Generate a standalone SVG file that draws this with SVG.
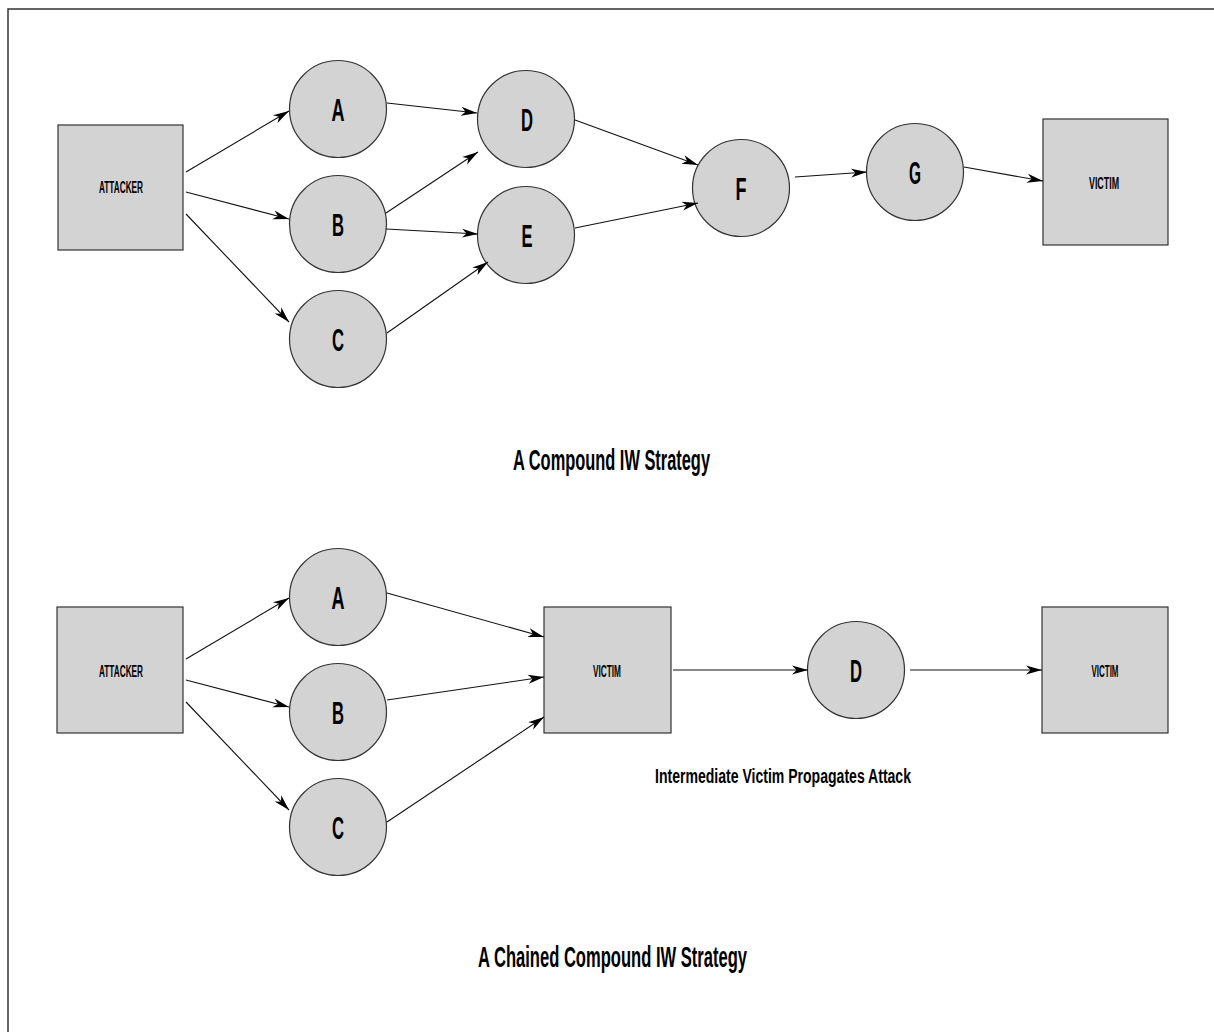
<svg xmlns="http://www.w3.org/2000/svg" width="1214" height="1032" viewBox="0 0 1214 1032">
  <defs>
    <marker id="ah" markerUnits="userSpaceOnUse" markerWidth="16" markerHeight="10" viewBox="-16 -5 16 10" refX="0" refY="0" orient="auto">
      <path d="M0,0 L-16,-4.5 L-11.5,0 L-16,4.5 Z" fill="#000"/>
    </marker>
  </defs>
  <style>
    .node { fill: #d3d3d3; stroke: #333; stroke-width: 1.2; }
    .lbl { font-family: "Liberation Sans Narrow", "Liberation Sans", Arial, sans-serif; font-weight: bold; fill: #000; text-anchor: middle; }
    .big { font-size: 32px; }
    .small { font-size: 16px; }
    .title { font-size: 30px; }
    .cap { font-size: 20px; }
    .edge { stroke: #111; stroke-width: 1.1; fill: none; marker-end: url(#ah); }
  </style>
  <rect width="1214" height="1032" fill="#fff"/>
  <!-- page frame: top and left edges only -->
  <path d="M8,1032 V9 H1214" fill="none" stroke="#333" stroke-width="1.5"/>

  <!-- upper figure: compound strategy -->
  <g id="attacker1"><rect class="node" x="58" y="125" width="125" height="125"/><text class="lbl small" x="121" y="193" textLength="44" lengthAdjust="spacingAndGlyphs">ATTACKER</text></g>
  <g id="a1"><circle class="node" cx="338" cy="109" r="48.5"/><text class="lbl big" x="338" y="121" textLength="13" lengthAdjust="spacingAndGlyphs">A</text></g>
  <g id="b1"><circle class="node" cx="338" cy="224" r="48.5"/><text class="lbl big" x="338" y="236" textLength="12" lengthAdjust="spacingAndGlyphs">B</text></g>
  <g id="c1"><circle class="node" cx="338" cy="339" r="48.5"/><text class="lbl big" x="338" y="351" textLength="12" lengthAdjust="spacingAndGlyphs">C</text></g>
  <g id="d1"><circle class="node" cx="526" cy="119" r="48.5"/><text class="lbl big" x="527" y="131" textLength="12" lengthAdjust="spacingAndGlyphs">D</text></g>
  <g id="e1"><circle class="node" cx="526" cy="235" r="48.5"/><text class="lbl big" x="527" y="247" textLength="11" lengthAdjust="spacingAndGlyphs">E</text></g>
  <g id="f1"><circle class="node" cx="741" cy="188" r="48.5"/><text class="lbl big" x="741" y="200" textLength="11" lengthAdjust="spacingAndGlyphs">F</text></g>
  <g id="g1"><circle class="node" cx="915" cy="172" r="48.5"/><text class="lbl big" x="915" y="184" textLength="12" lengthAdjust="spacingAndGlyphs">G</text></g>
  <g id="victim1"><rect class="node" x="1043" y="119" width="125" height="126"/><text class="lbl small" x="1104" y="189" textLength="30" lengthAdjust="spacingAndGlyphs">VICTIM</text></g>
  <text id="title1" class="lbl title" x="611.5" y="470" textLength="197" lengthAdjust="spacingAndGlyphs">A Compound IW Strategy</text>

  <!-- lower figure: chained compound strategy -->
  <g id="attacker2"><rect class="node" x="57" y="607" width="126" height="126"/><text class="lbl small" x="121" y="677" textLength="44" lengthAdjust="spacingAndGlyphs">ATTACKER</text></g>
  <g id="a2"><circle class="node" cx="338" cy="597" r="48.5"/><text class="lbl big" x="338" y="609" textLength="13" lengthAdjust="spacingAndGlyphs">A</text></g>
  <g id="b2"><circle class="node" cx="338" cy="712" r="48.5"/><text class="lbl big" x="338" y="724" textLength="12" lengthAdjust="spacingAndGlyphs">B</text></g>
  <g id="c2"><circle class="node" cx="338" cy="827" r="48.5"/><text class="lbl big" x="338" y="839" textLength="12" lengthAdjust="spacingAndGlyphs">C</text></g>
  <g id="victim2"><rect class="node" x="544" y="607" width="127" height="126"/><text class="lbl small" x="607" y="677" textLength="28" lengthAdjust="spacingAndGlyphs">VICTIM</text></g>
  <g id="d2"><circle class="node" cx="856" cy="670" r="48.5"/><text class="lbl big" x="856" y="682" textLength="12" lengthAdjust="spacingAndGlyphs">D</text></g>
  <g id="victim3"><rect class="node" x="1042" y="607" width="126" height="126"/><text class="lbl small" x="1105" y="677" textLength="27" lengthAdjust="spacingAndGlyphs">VICTIM</text></g>
  <text id="caption" class="lbl cap" x="783" y="783" textLength="256" lengthAdjust="spacingAndGlyphs">Intermediate Victim Propagates Attack</text>
  <text id="title2" class="lbl title" x="612.5" y="967" textLength="269" lengthAdjust="spacingAndGlyphs">A Chained Compound IW Strategy</text>

  <g id="connectors">
    <!-- upper figure -->
    <line class="edge" x1="186" y1="172" x2="289" y2="111"/>
    <line class="edge" x1="186" y1="192" x2="289" y2="219"/>
    <line class="edge" x1="186" y1="214" x2="289" y2="322"/>
    <line class="edge" x1="387" y1="103" x2="477" y2="113"/>
    <line class="edge" x1="386" y1="213" x2="478" y2="152"/>
    <line class="edge" x1="386" y1="229" x2="478" y2="234"/>
    <line class="edge" x1="387" y1="333" x2="488" y2="262"/>
    <line class="edge" x1="575" y1="120" x2="698" y2="165"/>
    <line class="edge" x1="575" y1="228" x2="698" y2="203"/>
    <line class="edge" x1="795" y1="177" x2="867" y2="172"/>
    <line class="edge" x1="964" y1="167" x2="1043" y2="181"/>
    <!-- lower figure -->
    <line class="edge" x1="186" y1="659" x2="289" y2="598"/>
    <line class="edge" x1="186" y1="680" x2="289" y2="707"/>
    <line class="edge" x1="186" y1="702" x2="289" y2="810"/>
    <line class="edge" x1="387" y1="593" x2="544" y2="637"/>
    <line class="edge" x1="387" y1="700" x2="544" y2="677"/>
    <line class="edge" x1="387" y1="822" x2="544" y2="717"/>
    <line class="edge" x1="673" y1="670" x2="808" y2="670"/>
    <line class="edge" x1="910" y1="670" x2="1042" y2="670"/>
  </g>
</svg>
